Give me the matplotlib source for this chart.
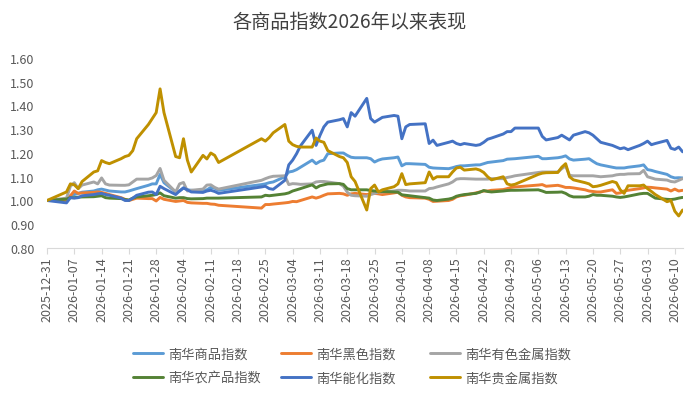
import matplotlib
matplotlib.use("Agg")
import matplotlib.pyplot as plt
import matplotlib.dates as mdates
import pandas as pd

plt.rcParams['font.family'] = ['Noto Sans CJK SC', 'DejaVu Sans']

title = "各商品指数2026年以来表现"

dates = [
    "2025-12-31",
    "2026-01-05", "2026-01-06", "2026-01-07", "2026-01-08", "2026-01-09",
    "2026-01-12", "2026-01-13", "2026-01-14", "2026-01-15", "2026-01-16",
    "2026-01-19", "2026-01-20", "2026-01-21", "2026-01-22", "2026-01-23",
    "2026-01-26", "2026-01-27", "2026-01-28", "2026-01-29", "2026-01-30",
    "2026-02-02", "2026-02-03", "2026-02-04", "2026-02-05", "2026-02-06",
    "2026-02-09", "2026-02-10", "2026-02-11", "2026-02-12", "2026-02-13",
    "2026-02-24", "2026-02-25", "2026-02-26", "2026-02-27",
    "2026-03-02", "2026-03-03", "2026-03-04", "2026-03-05", "2026-03-06",
    "2026-03-09", "2026-03-10", "2026-03-11", "2026-03-12", "2026-03-13",
    "2026-03-16", "2026-03-17", "2026-03-18", "2026-03-19", "2026-03-20",
    "2026-03-23", "2026-03-24", "2026-03-25", "2026-03-26", "2026-03-27",
    "2026-03-30", "2026-03-31",
    "2026-04-01", "2026-04-02", "2026-04-03",
    "2026-04-07", "2026-04-08", "2026-04-09", "2026-04-10",
    "2026-04-13", "2026-04-14", "2026-04-15", "2026-04-16", "2026-04-17",
    "2026-04-20", "2026-04-21", "2026-04-22", "2026-04-23", "2026-04-24",
    "2026-04-27", "2026-04-28", "2026-04-29", "2026-04-30",
    "2026-05-06", "2026-05-07", "2026-05-08",
    "2026-05-11", "2026-05-12", "2026-05-13", "2026-05-14", "2026-05-15",
    "2026-05-18", "2026-05-19", "2026-05-20", "2026-05-21", "2026-05-22",
    "2026-05-25", "2026-05-26", "2026-05-27", "2026-05-28", "2026-05-29",
    "2026-06-01", "2026-06-02", "2026-06-03", "2026-06-04", "2026-06-05",
    "2026-06-08", "2026-06-09", "2026-06-10", "2026-06-11", "2026-06-12",
]

commodity = [
    1.000,
    1.000, 1.020, 1.025, 1.030, 1.035,
    1.040, 1.045, 1.048, 1.044, 1.040,
    1.036, 1.036, 1.040, 1.045, 1.050,
    1.064, 1.070, 1.070, 1.110, 1.075,
    1.036, 1.040, 1.053, 1.045, 1.043,
    1.040, 1.045, 1.055, 1.052, 1.043,
    1.067, 1.070, 1.075, 1.078,
    1.100, 1.120, 1.123, 1.130, 1.140,
    1.170, 1.155, 1.165, 1.170, 1.197,
    1.200, 1.200, 1.190, 1.182, 1.180,
    1.180, 1.176, 1.162, 1.170, 1.175,
    1.180, 1.183,
    1.146, 1.155, 1.155,
    1.152, 1.140, 1.137, 1.136,
    1.134, 1.138, 1.143, 1.146, 1.146,
    1.150, 1.150, 1.155, 1.160, 1.162,
    1.168, 1.174, 1.175, 1.176,
    1.186, 1.176, 1.176,
    1.180, 1.183, 1.188, 1.175, 1.170,
    1.174, 1.176, 1.165, 1.155, 1.150,
    1.140, 1.137, 1.137, 1.137, 1.140,
    1.146, 1.150, 1.130, 1.127, 1.122,
    1.110, 1.100, 1.095, 1.096, 1.095,
]

ferrous = [
    1.000,
    1.000, 1.020, 1.040, 1.030, 1.032,
    1.034, 1.036, 1.034, 1.030, 1.025,
    1.012, 1.005, 1.000, 1.005, 1.010,
    1.008, 1.008, 0.998, 1.013, 1.005,
    0.996, 0.998, 1.000, 0.992, 0.990,
    0.988, 0.988, 0.985, 0.984, 0.980,
    0.968, 0.983, 0.983, 0.985,
    0.990, 0.992, 0.996, 0.995, 1.000,
    1.015, 1.010, 1.015, 1.022, 1.028,
    1.030, 1.028, 1.022, 1.028, 1.030,
    1.025, 1.028, 1.030, 1.028, 1.025,
    1.032, 1.035,
    1.022, 1.015, 1.012,
    1.010, 1.005, 0.996, 0.997,
    1.000, 1.005, 1.015, 1.020, 1.022,
    1.032, 1.036, 1.040, 1.040, 1.043,
    1.046, 1.050, 1.055, 1.057,
    1.065, 1.067, 1.060,
    1.064, 1.060, 1.055, 1.055, 1.053,
    1.045, 1.040, 1.038, 1.036, 1.036,
    1.045, 1.030, 1.032, 1.040, 1.043,
    1.050, 1.053, 1.056, 1.055, 1.053,
    1.048, 1.040, 1.048, 1.040, 1.043,
]

nonferrous = [
    1.000,
    1.010, 1.060, 1.075, 1.050, 1.065,
    1.078, 1.070, 1.095, 1.070, 1.065,
    1.064, 1.064, 1.066, 1.078, 1.090,
    1.090, 1.095, 1.105, 1.135, 1.085,
    1.036, 1.070, 1.076, 1.040, 1.043,
    1.048, 1.065, 1.066, 1.055, 1.048,
    1.085, 1.092, 1.098, 1.102,
    1.104, 1.067, 1.071, 1.070, 1.068,
    1.070, 1.078, 1.080, 1.080, 1.078,
    1.071, 1.060, 1.035, 1.022, 1.020,
    1.018, 1.025, 1.030, 1.035, 1.036,
    1.040, 1.043,
    1.043, 1.042, 1.040,
    1.040, 1.050, 1.052, 1.057,
    1.070, 1.078, 1.090, 1.092, 1.092,
    1.090, 1.090, 1.090, 1.090, 1.092,
    1.092, 1.097, 1.100, 1.104,
    1.118, 1.120, 1.120,
    1.120, 1.134, 1.145, 1.106, 1.104,
    1.104, 1.104, 1.104, 1.102, 1.100,
    1.104, 1.108, 1.110, 1.110, 1.112,
    1.113, 1.127, 1.100, 1.095, 1.090,
    1.086, 1.080, 1.078, 1.085, 1.092,
]

agri = [
    1.000,
    1.006, 1.012, 1.012, 1.014, 1.015,
    1.016, 1.018, 1.020, 1.012, 1.010,
    1.008, 1.004, 1.002, 1.010, 1.015,
    1.020, 1.022, 1.025, 1.032, 1.020,
    1.010, 1.012, 1.012, 1.008, 1.007,
    1.008, 1.010, 1.010, 1.010, 1.010,
    1.015, 1.022, 1.020, 1.022,
    1.028, 1.032, 1.040, 1.045, 1.050,
    1.066, 1.053, 1.062, 1.066, 1.070,
    1.071, 1.068, 1.050, 1.045, 1.045,
    1.045, 1.042, 1.040, 1.038, 1.038,
    1.036, 1.035,
    1.024, 1.022, 1.020,
    1.012, 1.010, 1.002, 1.000,
    1.006, 1.010, 1.018, 1.022, 1.025,
    1.030, 1.035, 1.042, 1.038, 1.036,
    1.040, 1.042, 1.043, 1.043,
    1.045, 1.040, 1.034,
    1.035, 1.036, 1.030, 1.020, 1.015,
    1.015, 1.018, 1.025, 1.022, 1.022,
    1.018, 1.015, 1.013, 1.015, 1.018,
    1.028, 1.030, 1.030, 1.020, 1.010,
    1.005, 1.004, 1.006, 1.010, 1.013,
]

energy = [
    1.000,
    0.990, 1.012, 1.010, 1.012, 1.020,
    1.025, 1.028, 1.030, 1.025, 1.022,
    1.010, 1.000, 1.000, 1.010, 1.022,
    1.035, 1.036, 1.025, 1.060, 1.050,
    1.025, 1.040, 1.053, 1.045, 1.036,
    1.034, 1.040, 1.043, 1.038, 1.030,
    1.057, 1.060, 1.050, 1.047,
    1.085, 1.150, 1.170, 1.197, 1.230,
    1.296, 1.232, 1.274, 1.310, 1.330,
    1.340, 1.345, 1.310, 1.370, 1.355,
    1.430, 1.345, 1.330, 1.340, 1.350,
    1.358, 1.355,
    1.260, 1.310, 1.320,
    1.323, 1.240, 1.254, 1.232,
    1.245, 1.250, 1.240, 1.235, 1.240,
    1.232, 1.235, 1.245, 1.258, 1.263,
    1.280, 1.290, 1.290, 1.305,
    1.305, 1.270, 1.255,
    1.265, 1.275, 1.265, 1.255, 1.275,
    1.290, 1.285, 1.275, 1.260, 1.245,
    1.232, 1.225, 1.218, 1.222, 1.214,
    1.232, 1.240, 1.250, 1.235, 1.240,
    1.253, 1.220, 1.215, 1.225, 1.205,
]

precious = [
    1.000,
    1.036, 1.070, 1.066, 1.050, 1.080,
    1.120, 1.125, 1.168, 1.160, 1.155,
    1.176, 1.185, 1.190, 1.210, 1.260,
    1.320, 1.345, 1.370, 1.470, 1.370,
    1.185, 1.180, 1.260, 1.170, 1.120,
    1.190, 1.175, 1.200, 1.190, 1.160,
    1.260, 1.250, 1.265, 1.285,
    1.320, 1.250, 1.235, 1.228, 1.225,
    1.225, 1.263, 1.250, 1.245, 1.210,
    1.185, 1.180, 1.160, 1.100, 1.080,
    0.960, 1.050, 1.065, 1.036, 1.045,
    1.058, 1.070,
    1.113, 1.067, 1.070,
    1.075, 1.120, 1.090, 1.100,
    1.100, 1.120, 1.137, 1.140, 1.128,
    1.133, 1.128, 1.118, 1.100, 1.087,
    1.100, 1.070, 1.065, 1.068,
    1.110, 1.115, 1.117,
    1.118, 1.140, 1.155, 1.100, 1.087,
    1.075, 1.070, 1.058, 1.060, 1.064,
    1.080, 1.075, 1.045, 1.030, 1.062,
    1.062, 1.065, 1.050, 1.038, 1.025,
    0.995, 1.000, 0.955, 0.935, 0.960,
]

names = ["南华商品指数", "南华黑色指数", "南华有色金属指数",
         "南华农产品指数", "南华能化指数", "南华贵金属指数"]
colors = ["#5B9BD5", "#ED7D31", "#A5A5A5", "#548235", "#4472C4", "#BF9000"]
series = [commodity, ferrous, nonferrous, agri, energy, precious]

x = pd.to_datetime(dates)

fig = plt.figure(figsize=(7.0, 4.02), dpi=100)
ax = fig.add_axes([47 / 700, 1 - 249 / 402, (683 - 47) / 700, (249 - 59) / 402])

handles = []
for vals, c, n in zip(series, colors, names):
    h, = ax.plot(x, vals, color=c, lw=2.1, label=n,
                 solid_joinstyle='round', solid_capstyle='round')
    handles.append(h)

ax.set_ylim(0.80, 1.60)
ax.set_yticks([0.80 + 0.1 * i for i in range(9)])
ax.yaxis.set_major_formatter(matplotlib.ticker.FormatStrFormatter('%.2f'))

start = pd.Timestamp("2025-12-31")
ax.set_xlim(mdates.date2num(start), mdates.date2num(pd.Timestamp("2026-06-12")) + 0.1)
ticks = pd.date_range("2025-12-31", "2026-06-10", freq="7D")
ax.set_xticks(mdates.date2num(ticks))
ax.set_xticklabels([t.strftime("%Y-%m-%d") for t in ticks], rotation=90)

for s in ["left", "top", "right"]:
    ax.spines[s].set_visible(False)
ax.spines["bottom"].set_color("#D9D9D9")
ax.spines["bottom"].set_linewidth(0.8)
ax.tick_params(axis='x', colors="#D9D9D9", length=4, width=0.8, pad=2,
               labelsize=9, labelcolor="#595959")
ax.tick_params(axis='y', length=0, pad=9, labelsize=9, labelcolor="#595959")

fig.text(0.5, 1 - 22 / 402, title, ha='center', va='center',
         fontsize=13.8, color="#404040")

col_x = [133, 281, 430]
for i in range(3):
    hs = [handles[i], handles[i + 3]]
    fig.legend(hs, [h.get_label() for h in hs], loc='upper left',
               bbox_to_anchor=(col_x[i] / 700, 1 - 349 / 402),
               frameon=False, fontsize=9.5, borderpad=0, borderaxespad=0,
               handlelength=2.3, handletextpad=0.4, labelspacing=0.78,
               labelcolor="#595959")

fig.savefig("out.png", dpi=100)
